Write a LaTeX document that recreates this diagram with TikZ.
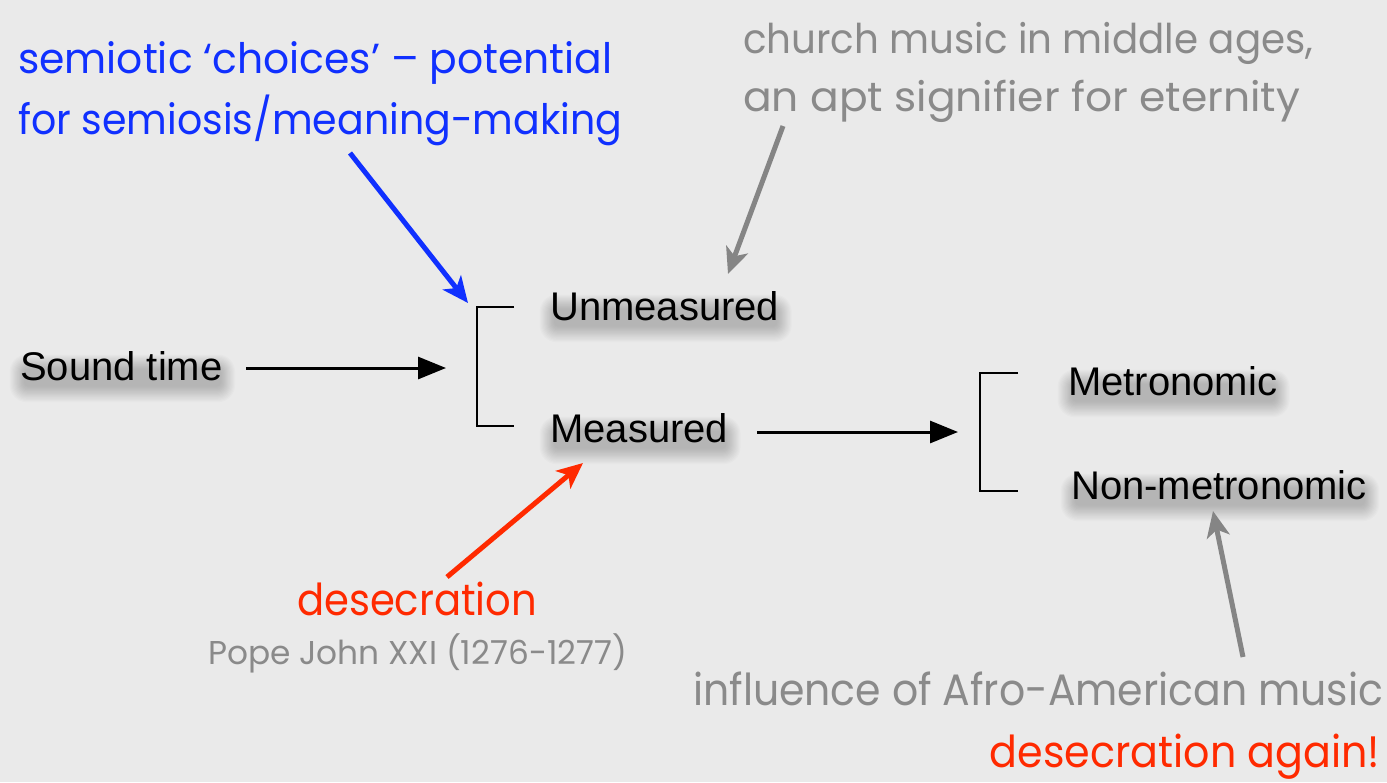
\documentclass[tikz,border=0pt]{standalone}
\usepackage{fontspec}
\setmainfont{Liberation Sans}
\newfontfamily\fut{Poppins}
\usepackage{graphicx}
\usetikzlibrary{arrows.meta,calc}
\definecolor{bg}{HTML}{EAEAEA}
\definecolor{myblue}{RGB}{16,48,255}
\definecolor{myred}{RGB}{255,42,0}
\definecolor{mygray}{HTML}{8A8A8A}
\definecolor{arrgray}{HTML}{858585}
\pgfdeclarelayer{bottom}
\pgfdeclarelayer{shadow}
\pgfsetlayers{bottom,shadow,main}
\newlength\fitlen
\newcommand\fitw[2]{\settowidth\fitlen{#2}\edef\fitfac{\fpeval{round(#1/\fitlen,4)}}\scalebox{\fitfac}[1]{#2}}
% label with a soft drop shadow drawn on the shadow layer
\newcommand\shnode[3]{%
  \node[lbl,anchor=base west] (#1) at (#2) {#3};
  \begin{pgfonlayer}{shadow}
    \foreach \k in {0,...,13}{%
      \fill[black,opacity=0.016,rounded corners={4pt+\k pt}]
        ($(#1.north west)+(4-1.1*\k,18-1.1*\k)$) rectangle ($(#1.south east)+(-2+1.1*\k,6+1.2*\k)$);}
  \end{pgfonlayer}}
\tikzset{
  lbl/.style={font=\fontsize{40}{48}\selectfont, inner sep=0pt, text=black},
  ann/.style={inner sep=0pt},
  brk/.style={line width=2.5pt, black},
  blk/.style={line width=3pt, black, -{Triangle[length=28pt,width=22pt]}},
  col/.style={line width=5pt, -{Stealth[length=26pt,width=23pt,inset=7pt]}}
}
\begin{document}
\begin{tikzpicture}[x=1pt,y=-1pt]
\begin{pgfonlayer}{bottom}
\fill[bg] (0,0) rectangle (1387,782);
\end{pgfonlayer}
\useasboundingbox (0,0) rectangle (1387,782);

% annotation texts
\node[ann, text=myblue, font=\fut\fontsize{42}{50}\selectfont, anchor=base west] (blue1) at (18,73) {\fitw{594}{semiotic ‘choices’ – potential}};
\node[ann, text=myblue, font=\fut\fontsize{42}{50}\selectfont, anchor=base west] (blue2) at (18,134) {\fitw{604}{for semiosis/meaning-making}};
\node[ann, text=mygray, font=\fut\fontsize{41}{48}\selectfont, anchor=base west] (gray1) at (743,53) {\fitw{570}{church music in middle ages,}};
\node[ann, text=mygray, font=\fut\fontsize{41}{48}\selectfont, anchor=base west] (gray2) at (743,111) {\fitw{557}{an apt signifier for eternity}};
\node[ann, text=myred, font=\fut\fontsize{44}{52}\selectfont, anchor=base west] (des1) at (297,615) {\fitw{240}{desecration}};
\node[ann, text=mygray, font=\fut\fontsize{33}{40}\selectfont, anchor=base west] (pope) at (208,664) {\fitw{419}{Pope John XXI (1276-1277)}};
\node[ann, text=mygray, font=\fut\fontsize{44}{52}\selectfont, anchor=base west] (afro) at (693,705) {\fitw{690}{influence of Afro-American music}};
\node[ann, text=myred, font=\fut\fontsize{44}{52}\selectfont, anchor=base east] (des2) at (1380,767) {\fitw{390}{desecration again!}};

% black labels with shadows
\shnode{snd}{20,380}{Sound time}
\shnode{unm}{550,320}{Unmeasured}
\shnode{mea}{550,442}{Measured}
\shnode{met}{1068,395}{Metronomic}
\shnode{non}{1071,499}{Non-metronomic}

% brackets
\coordinate (k1t) at (514,307);
\coordinate (k1b) at (514,426);
\draw[brk] (k1t) -- (477,307) -- (477,426) -- (k1b);
\coordinate (k2t) at (1018,373);
\coordinate (k2b) at (1018,491);
\draw[brk] (k2t) -- (980,373) -- (980,491) -- (k2b);

% black arrows
\coordinate (a1s) at (246,368);
\coordinate (a1e) at (446,368);
\draw[blk] (a1s) -- (a1e);
\coordinate (a2s) at (757,432);
\coordinate (a2e) at (958,432);
\draw[blk] (a2s) -- (a2e);

% coloured arrows
\coordinate (bs) at (350,153);
\coordinate (be) at (468,303);
\draw[col, myblue] (bs) -- (be);
\coordinate (gs) at (783,126);
\coordinate (ge) at (728,274);
\draw[col, arrgray] (gs) -- (ge);
\coordinate (rs) at (447,577);
\coordinate (re) at (583,463);
\draw[col, myred] (rs) -- (re);
\coordinate (hs) at (1243,657);
\coordinate (he) at (1213,511);
\draw[col, arrgray] (hs) -- (he);
\end{tikzpicture}
\end{document}
